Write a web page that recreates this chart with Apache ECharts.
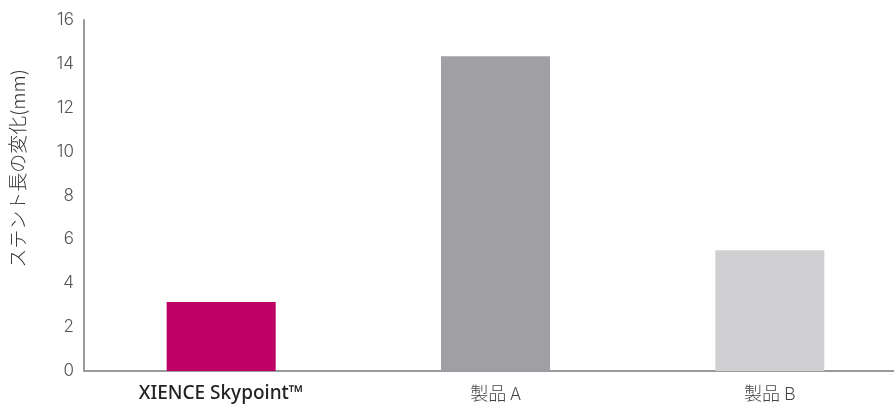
<!DOCTYPE html>
<html><head><meta charset="utf-8">
<script src="https://cdn.jsdelivr.net/npm/echarts@6/dist/echarts.min.js"></script>
<style>html,body{margin:0;padding:0;background:#fff;overflow:hidden;width:894px;height:409px}#c{width:907px;height:409px}</style>
</head><body><div id="c"></div>
<script>
const categories = ['XIENCE Skypoint™', '製品 A', '製品 B'];
const values = [3.15, 14.35, 5.5];
const barColors = ['#BE0066', '#A0A0A4', '#D0D0D2'];
const yTicks = [0, 2, 4, 6, 8, 10, 12, 14, 16];

const chart = echarts.init(document.getElementById('c'));
chart.setOption({
  animation: false,
  grid: { left: 84, right: 0, top: 20, bottom: 38, containLabel: false },
  xAxis: {
    type: 'category', data: categories,
    axisLine: { lineStyle: { color: '#999a9e', width: 2 } },
    axisTick: { show: false },
    axisLabel: {
      margin: 13,
      formatter: function (v, i) { return i === 0 ? '{b|' + v + '}' : '{n|' + v + '}'; },
      rich: {
        b: { fontSize: 19, fontWeight: 500, color: '#222', fontFamily: '"Noto Sans", "Noto Sans CJK JP", sans-serif' },
        n: { fontSize: 18, color: '#444', fontFamily: '"Noto Sans CJK JP", sans-serif', fontWeight: 300 }
      }
    }
  },
  yAxis: {
    type: 'value', min: yTicks[0], max: yTicks[yTicks.length - 1], interval: 2,
    name: 'ステント長の変化(mm)', nameLocation: 'middle', nameGap: 57, nameRotate: 90,
    nameTextStyle: { fontSize: 19, color: '#333', fontFamily: '"Noto Sans CJK JP", sans-serif', fontWeight: 300, padding: [0, 0, 0, 54] },
    axisLine: { show: true, lineStyle: { color: '#999a9e', width: 2 } },
    axisTick: { show: false },
    splitLine: { show: false },
    axisLabel: { margin: 10, fontSize: 17, color: '#555', fontFamily: 'Inter, sans-serif', fontWeight: 300 }
  },
  series: [{
    type: 'bar', barWidth: 109,
    data: values.map((v, i) => ({ value: v, itemStyle: { color: barColors[i] } }))
  }]
});
</script></body></html>
